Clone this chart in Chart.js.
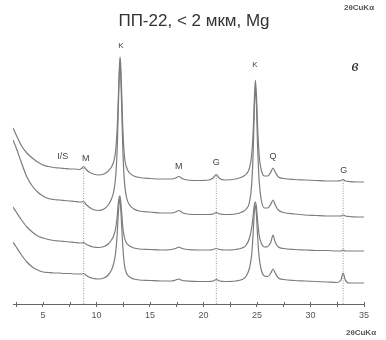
<!DOCTYPE html>
<html lang="ru">
<head>
<meta charset="UTF-8">
<title>ПП-22, &lt; 2 мкм, Mg</title>
<script src="https://cdn.jsdelivr.net/npm/chart.js"></script>
<style>
  html, body { margin: 0; padding: 0; background: #fff; }
  #wrap { width: 386px; height: 340px; }
</style>
</head>
<body>
<div id="wrap"><canvas id="xrd" width="386" height="340"></canvas></div>
<script>
  // 2θ positions (CuKα), denser around the reflections
  const twoTheta = [
    2.2, 2.5, 3, 3.5, 4, 4.5, 5, 5.5, 6, 6.5,
    7, 7.5, 8, 8.4, 8.6, 8.8, 9.0, 9.3, 9.7, 10.2,
    10.7, 11.1, 11.4, 11.6, 11.8, 11.95, 12.05, 12.15, 12.2, 12.25,
    12.35, 12.45, 12.6, 12.8, 13.1, 13.5, 14, 15, 16, 17,
    17.4, 17.7, 18, 18.5, 19.5, 20.5, 20.9, 21.2, 21.5, 22,
    23, 23.6, 24.0, 24.3, 24.5, 24.65, 24.75, 24.85, 24.95, 25.05,
    25.2, 25.4, 25.7, 26.0, 26.3, 26.5, 26.7, 27.0, 27.5, 28.5,
    29.5, 30.5, 31.5, 32.5, 32.85, 33.05, 33.25, 33.6, 34.3, 35
  ];

  // stacked patterns, top to bottom (intensity incl. vertical offset)
  const pattern1 = [
    176, 169, 158, 151, 146, 142, 139, 137.5, 136.5, 136,
    135.5, 135, 135, 134.5, 135.5, 137.5, 135, 132, 130, 129,
    130, 133, 137, 142, 154, 179, 209, 239, 247, 242,
    214, 179, 149, 137, 131, 128, 126.5, 125.5, 125, 125,
    126, 127.5, 125.5, 124, 123.5, 124, 126, 129.5, 125.5, 124,
    125, 127, 130, 136, 149, 174, 204, 224, 209, 179,
    149, 134, 128, 128, 132, 136, 132, 127, 125.5, 124.5,
    124, 123.5, 123, 123, 123.5, 124.5, 123, 122.5, 122, 122
  ];
  const pattern2 = [
    164, 156, 141, 127, 118, 112, 108, 105.5, 104.5, 104,
    103.5, 103, 102.5, 102, 102, 102.5, 100, 97, 94.5, 93.5,
    95, 99, 105, 112, 128, 159, 199, 234, 242, 234,
    199, 159, 124, 107, 99, 95, 93, 92, 91, 91,
    92, 93.5, 91.5, 90, 89.5, 89.5, 90, 91.5, 90, 89.5,
    90, 92, 95, 102, 119, 154, 194, 216, 199, 159,
    124, 104, 96, 96, 100, 104, 99, 94, 91.5, 90,
    89, 88.5, 88, 88, 88, 89, 88, 87.5, 87, 87
  ];
  const pattern3 = [
    97, 92, 84, 77, 72, 68, 66, 64.5, 63.5, 63,
    62.5, 62, 61.5, 61, 61, 61.5, 60, 58.5, 57, 56.5,
    57.5, 60, 64, 68, 76, 89, 102, 108, 108, 104,
    92, 78, 67, 61, 58, 56, 55, 54.5, 54, 54.5,
    55.5, 57, 55.5, 54.5, 54, 54, 54.5, 55.5, 54.5, 54,
    54.5, 56, 59, 66, 76, 89, 99, 102, 97, 84,
    69, 61, 57, 57.5, 62, 69, 62, 57, 55.5, 54.5,
    54, 53.5, 53.5, 53, 53, 54, 53, 53, 53, 53
  ];
  const pattern4 = [
    62, 57, 49, 42, 37, 34, 32, 31.5, 31, 31,
    30.5, 30.5, 30, 30, 30, 30.5, 29, 27, 25.5, 25,
    26, 29, 34, 40, 52, 72, 92, 104, 105, 99,
    79, 59, 40, 31, 27, 25, 24, 23.5, 23, 23,
    24, 25, 23.5, 23, 22.5, 22.5, 23, 24.5, 23, 22.5,
    23, 24.5, 28, 36, 49, 72, 92, 99, 89, 69,
    47, 34, 28, 27.5, 31, 35, 31, 26, 24.5, 23.5,
    23, 22.5, 22, 21.5, 24, 31, 24, 21, 21, 21
  ];

  // reference lines for muscovite / goethite reflections
  const markerAngles = [8.8, 21.2, 33.05];

  // phase letters: name, 2θ, height
  const peakNames   = ['I/S', 'M', 'K', 'M', 'G', 'K', 'Q', 'G'];
  const peakAngles  = [6.85, 9.0, 12.28, 17.7, 21.2, 24.8, 26.5, 33.1];
  const peakHeights = [147, 145, 258, 137, 141, 239, 147, 133];

  const tickValues = [2.5, 5, 7.5, 10, 12.5, 15, 17.5, 20, 22.5, 25, 27.5, 30, 32.5, 35];

  const toPoints = arr => twoTheta.map((t, i) => ({ x: t, y: arr[i] }));

  const traceStyle = {
    borderColor: '#7c7c7c',
    borderWidth: 1.2,
    pointRadius: 0,
    fill: false,
    cubicInterpolationMode: 'monotone'
  };

  const datasets = [pattern1, pattern2, pattern3, pattern4].map(p =>
    Object.assign({ data: toPoints(p) }, traceStyle));

  markerAngles.forEach(a => {
    const top = pattern1[twoTheta.indexOf(a)];
    datasets.push({
      data: [{ x: a, y: 0 }, { x: a, y: top }],
      borderColor: '#9a9a9a',
      borderWidth: 1,
      borderDash: [1, 1.5],
      pointRadius: 0,
      fill: false
    });
  });

  const annotate = {
    id: 'annotate',
    afterDraw(chart) {
      const { ctx, scales: { x, y } } = chart;
      ctx.save();

      // tick stubs above the axis line
      ctx.strokeStyle = '#666';
      ctx.lineWidth = 1;
      tickValues.forEach(v => {
        const px = Math.round(x.getPixelForValue(v)) + 0.5;
        ctx.beginPath();
        ctx.moveTo(px, y.bottom - 2);
        ctx.lineTo(px, y.bottom);
        ctx.stroke();
      });

      ctx.textAlign = 'center';
      ctx.textBaseline = 'middle';
      ctx.fillStyle = '#444';
      peakNames.forEach((n, i) => {
        ctx.font = (n === 'K' ? '8px' : '9px') + ' "Liberation Sans", Arial, sans-serif';
        ctx.fillText(n, x.getPixelForValue(peakAngles[i]), y.getPixelForValue(peakHeights[i]));
      });

      ctx.fillStyle = '#333';
      ctx.font = '17px "Liberation Sans", Arial, sans-serif';
      ctx.fillText('ПП-22, < 2 мкм, Mg', 194, 21);

      ctx.fillStyle = '#555';
      ctx.font = 'bold 8px "Liberation Sans", Arial, sans-serif';
      ctx.fillText('2θCuKα', 359, 8);
      ctx.fillText('2θCuKα', 361, 333);

      ctx.fillStyle = '#222';
      ctx.font = 'italic 16px "Liberation Serif", "DejaVu Serif", serif';
      ctx.fillText('в', 355, 67);

      ctx.restore();
    }
  };

  new Chart(document.getElementById('xrd'), {
    type: 'line',
    data: { datasets },
    options: {
      responsive: false,
      animation: false,
      layout: { padding: { left: 13, right: 22, top: 40, bottom: 0 } },
      plugins: { legend: { display: false }, tooltip: { enabled: false } },
      scales: {
        x: {
          type: 'linear',
          min: 2.2,
          max: 35,
          afterBuildTicks: s => { s.ticks = tickValues.map(v => ({ value: v })); },
          afterFit: s => { s.height = 36; },
          grid: { drawOnChartArea: false, drawTicks: true, tickLength: 3, color: '#666' },
          border: { display: true, color: '#666', width: 1 },
          ticks: {
            autoSkip: false,
            maxRotation: 0,
            padding: 3,
            color: '#555',
            font: { size: 9, family: '"Liberation Sans", Arial, sans-serif' },
            callback: v => (v % 5 === 0 ? String(v) : '')
          }
        },
        y: { display: false, min: 0, max: 264 }
      }
    },
    plugins: [annotate]
  });
</script>
</body>
</html>
